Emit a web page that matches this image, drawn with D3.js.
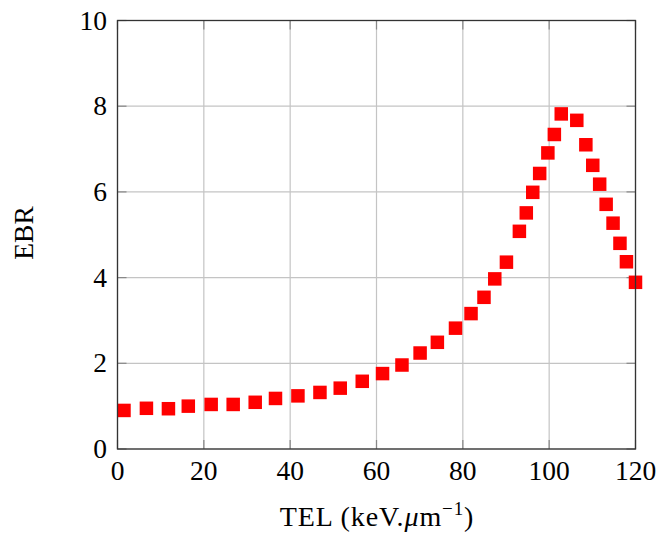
<!DOCTYPE html>
<html><head><meta charset="utf-8">
<script src="https://cdn.jsdelivr.net/npm/d3@7"></script>
<style>body{margin:0;background:#fff}svg{display:block}text{font-family:"Liberation Serif","Times New Roman",serif;fill:#000}</style>
</head><body>
<script>
const tel = [1.5,6.7,11.8,16.4,21.7,26.8,31.9,36.6,41.8,46.9,51.6,56.7,61.4,
  65.9,70.1,74.1,78.3,81.9,84.9,87.4,90.1,
  93.1,94.7,96.2,97.8,99.7,101.2,102.8,
  106.4,108.5,110.1,111.7,113.2,114.8,116.4,117.9,120.0];
const ebr = [0.90,0.95,0.94,1.00,1.04,1.04,1.09,1.18,1.24,1.32,1.42,1.58,1.76,
  1.96,2.24,2.49,2.82,3.16,3.54,3.97,4.36,
  5.08,5.51,5.99,6.43,6.91,7.34,7.82,
  7.67,7.10,6.62,6.18,5.71,5.27,4.80,4.37,3.89];
const xTicks = [0,20,40,60,80,100,120];
const yTicks = [0,2,4,6,8,10];

const W=659,H=533;
const svg=d3.select("body").append("svg").attr("width",W).attr("height",H);
const x=d3.scaleLinear().domain([0,120]).range([117.5,635.5]);
const y=d3.scaleLinear().domain([0,10]).range([449,20.5]);

// grid
svg.append("g").selectAll("line").data(xTicks).join("line")
  .attr("x1",d=>x(d)).attr("x2",d=>x(d)).attr("y1",y(0)).attr("y2",y(10))
  .attr("stroke","#c4c4c4").attr("stroke-width",1.2);
svg.append("g").selectAll("line").data(yTicks).join("line")
  .attr("y1",d=>y(d)).attr("y2",d=>y(d)).attr("x1",x(0)).attr("x2",x(120))
  .attr("stroke","#c4c4c4").attr("stroke-width",1.2);

// ticks (inside, all sides)
const tl=9, tc="#888";
const tg=svg.append("g").attr("stroke",tc).attr("stroke-width",1.2);
xTicks.forEach(d=>{
  tg.append("line").attr("x1",x(d)).attr("x2",x(d)).attr("y1",y(0)).attr("y2",y(0)-tl);
  tg.append("line").attr("x1",x(d)).attr("x2",x(d)).attr("y1",y(10)).attr("y2",y(10)+tl);
});
yTicks.forEach(d=>{
  tg.append("line").attr("y1",y(d)).attr("y2",y(d)).attr("x1",x(0)).attr("x2",x(0)+tl);
  tg.append("line").attr("y1",y(d)).attr("y2",y(d)).attr("x1",x(120)).attr("x2",x(120)-tl);
});

// markers
const s=13.5;
svg.append("g").selectAll("rect").data(tel.map((t,i)=>[t,ebr[i]])).join("rect")
  .attr("x",d=>x(d[0])-s/2).attr("y",d=>y(d[1])-s/2).attr("width",s).attr("height",s)
  .attr("fill","#ff0000");

// frame
svg.append("rect").attr("x",x(0)).attr("y",y(10)).attr("width",x(120)-x(0)).attr("height",y(0)-y(10))
  .attr("fill","none").attr("stroke","#333").attr("stroke-width",1.3);

// tick labels
svg.append("g").selectAll("text").data(xTicks).join("text")
  .attr("x",d=>x(d)).attr("y",480).attr("text-anchor","middle").attr("font-size",27.5).text(d=>d);
svg.append("g").selectAll("text").data(yTicks).join("text")
  .attr("x",107).attr("y",d=>y(d)+9).attr("text-anchor","end").attr("font-size",27.5).text(d=>d);

// axis labels
const xl=svg.append("text").attr("x",377).attr("y",526).attr("text-anchor","middle")
  .attr("font-size",28).attr("letter-spacing",0.9);
xl.append("tspan").text("TEL (keV.");
xl.append("tspan").attr("font-style","italic").text("μ");
xl.append("tspan").text("m");
xl.append("tspan").attr("font-size",19).attr("dy",-11).text("−1");
xl.append("tspan").attr("dy",11).text(")");
svg.append("text").attr("transform","translate(33,233) rotate(-90)").attr("text-anchor","middle")
  .attr("font-size",27.5).text("EBR");
</script>
</body></html>
